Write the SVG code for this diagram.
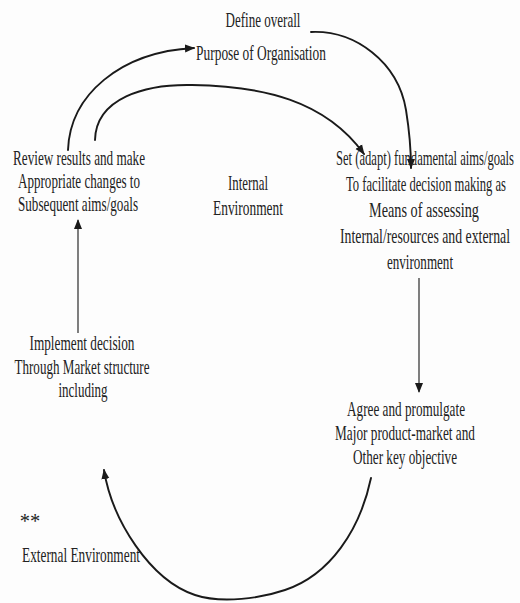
<svg xmlns="http://www.w3.org/2000/svg" width="520" height="603" viewBox="0 0 520 603">
  <defs>
    <style>
      text { font-family: "Liberation Serif", "Times New Roman", serif; font-size: 20.5px; fill: #222; text-anchor: middle; }
      .wire { fill: none; stroke: #1a1a1a; stroke-width: 1.9; stroke-linecap: round; }
      .thin { fill: none; stroke: #2a2a2a; stroke-width: 1.2; }
    </style>
    <marker id="head" viewBox="0 0 10 10" refX="9" refY="5" markerWidth="10" markerHeight="10" markerUnits="userSpaceOnUse" orient="auto">
      <path d="M0,1 L10,5 L0,9 Z" fill="#1a1a1a"/>
    </marker>
  </defs>

  <rect width="520" height="603" fill="#fdfdfd"/>

  <!-- connectors -->
  <g id="connectors">
    <path class="wire" d="M68,150 C70,95 120,52 194,48" marker-end="url(#head)"/>
    <path class="wire" d="M95,140 C96,98 145,84 192,85 C262,86 325,100 364,154" marker-end="url(#head)"/>
    <path class="wire" d="M311,32 C355,30 398,62 406,110 C410,135 411,150 411,168" marker-end="url(#head)"/>
    <path class="thin" d="M78,333 L78,220" marker-end="url(#head)"/>
    <path class="thin" d="M419,278 L419,392" marker-end="url(#head)"/>
    <path class="wire" d="M371,478 C360,530 330,575 285,590 C262,598 222,604 195,595 C150,580 112,520 104,470" marker-end="url(#head)"/>
  </g>

  <!-- labels are set in a condensed serif: each line is squeezed horizontally -->
  <g id="define">
    <text transform="translate(263,27) scale(0.63,1)" textLength="119" lengthAdjust="spacingAndGlyphs">Define overall</text>
    <text transform="translate(261,60) scale(0.63,1)" textLength="206" lengthAdjust="spacingAndGlyphs">Purpose of Organisation</text>
  </g>

  <g id="review">
    <text transform="translate(79,165) scale(0.63,1)" textLength="209.5" lengthAdjust="spacingAndGlyphs">Review results and make</text>
    <text transform="translate(79,188) scale(0.63,1)" textLength="193.7" lengthAdjust="spacingAndGlyphs">Appropriate changes to</text>
    <text transform="translate(78,211) scale(0.63,1)" textLength="190.5" lengthAdjust="spacingAndGlyphs">Subsequent aims/goals</text>
  </g>

  <g id="internal">
    <text transform="translate(248,190) scale(0.63,1)" textLength="63.5" lengthAdjust="spacingAndGlyphs">Internal</text>
    <text transform="translate(248,215) scale(0.63,1)" textLength="111" lengthAdjust="spacingAndGlyphs">Environment</text>
  </g>

  <g id="set-aims">
    <text transform="translate(425,165) scale(0.63,1)" textLength="282.5" lengthAdjust="spacingAndGlyphs">Set (adapt) fundamental aims/goals</text>
    <text transform="translate(426,191) scale(0.63,1)" textLength="254" lengthAdjust="spacingAndGlyphs">To facilitate decision making as</text>
    <text transform="translate(424,217) scale(0.63,1)" textLength="174.6" lengthAdjust="spacingAndGlyphs">Means of assessing</text>
    <text transform="translate(425,243) scale(0.63,1)" textLength="269.8" lengthAdjust="spacingAndGlyphs">Internal/resources and external</text>
    <text transform="translate(420,269) scale(0.63,1)" textLength="104.8" lengthAdjust="spacingAndGlyphs">environment</text>
  </g>

  <g id="implement">
    <text transform="translate(82,350) scale(0.63,1)" textLength="166.7" lengthAdjust="spacingAndGlyphs">Implement decision</text>
    <text transform="translate(82,374) scale(0.63,1)" textLength="214.3" lengthAdjust="spacingAndGlyphs">Through Market structure</text>
    <text transform="translate(83,397) scale(0.63,1)" textLength="77.8" lengthAdjust="spacingAndGlyphs">including</text>
  </g>

  <g id="agree">
    <text transform="translate(406,416) scale(0.63,1)" textLength="187.3" lengthAdjust="spacingAndGlyphs">Agree and promulgate</text>
    <text transform="translate(405,440) scale(0.63,1)" textLength="222.2" lengthAdjust="spacingAndGlyphs">Major product-market and</text>
    <text transform="translate(405,464) scale(0.63,1)" textLength="165" lengthAdjust="spacingAndGlyphs">Other key objective</text>
  </g>

  <g id="external">
    <text x="30" y="528" font-size="13">**</text>
    <text transform="translate(81,562) scale(0.63,1)" textLength="187.3" lengthAdjust="spacingAndGlyphs">External Environment</text>
  </g>
</svg>
